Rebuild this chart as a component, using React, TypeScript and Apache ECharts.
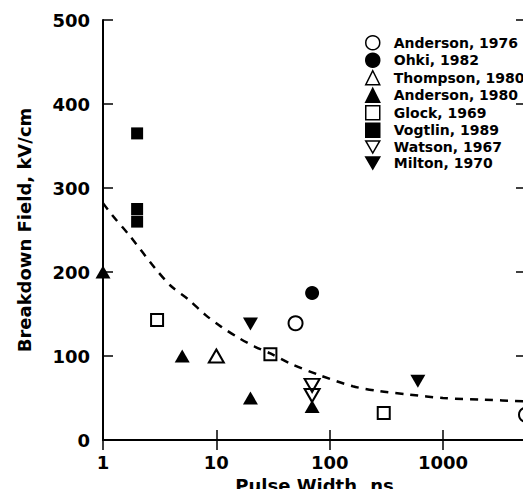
import React, { useEffect, useRef } from 'react';
import * as echarts from 'echarts';

// ---- data ----
const legendNames = [
  'Anderson, 1976',
  'Ohki, 1982',
  'Thompson, 1980',
  'Anderson, 1980',
  'Glock, 1969',
  'Vogtlin, 1989',
  'Watson, 1967',
  'Milton, 1970',
];
const anderson1976 = [[50, 139], [5400, 30]];
const ohki1982 = [[70, 175]];
const thompson1980 = [[10, 100]];
const anderson1980 = [[1, 200], [5, 100], [20, 50], [70, 40]];
const glock1969 = [[3, 143], [30, 102], [300, 32]];
const vogtlin1989 = [[2, 365], [2, 275], [2, 260]];
const watson1967 = [[70, 65], [70, 53]];
const milton1970 = [[20, 138], [600, 70]];
const fitCurve = [
  [1, 282], [1.2, 268], [1.7, 244], [2.9, 204], [4, 183], [5.7, 167],
  [8, 149], [11, 135], [16, 121], [22, 111], [30, 103], [45, 91],
  [82, 77], [160, 64], [280, 58], [510, 54], [1000, 50], [2300, 48], [5400, 46],
];
const xTickLabels = [1, 10, 100, 1000];
const xMin = 1;
const xMax = 5400;
const yMin = 0;
const yMax = 500;
const yStep = 100;

const FONT = '"DejaVu Sans", sans-serif';
const DOWN_TRI = 'path://M0,0 L20,0 L10,17.3 Z';

type Marker = { symbol: string; filled: boolean; size: number | number[]; rotate?: number; legendIcon?: string };

const markers: Marker[] = [
  { symbol: 'circle', filled: false, size: 14 },
  { symbol: 'circle', filled: true, size: 14 },
  { symbol: 'triangle', filled: false, size: [15, 13] },
  { symbol: 'triangle', filled: true, size: [15, 13] },
  { symbol: 'rect', filled: false, size: 12 },
  { symbol: 'rect', filled: true, size: 12 },
  { symbol: 'triangle', filled: false, size: [15, 13], rotate: 180, legendIcon: DOWN_TRI },
  { symbol: 'triangle', filled: true, size: [15, 13], rotate: 180, legendIcon: DOWN_TRI },
];

const seriesData = [
  anderson1976, ohki1982, thompson1980, anderson1980,
  glock1969, vogtlin1989, watson1967, milton1970,
];

export default function App() {
  const ref = useRef<HTMLDivElement>(null);

  useEffect(() => {
    if (!ref.current) return;
    const chart = echarts.init(ref.current, null, { renderer: 'svg' });

    const scatterSeries = legendNames.map((name, i) => {
      const m = markers[i];
      return {
        name,
        type: 'scatter',
        xAxisIndex: 0,
        yAxisIndex: 0,
        data: seriesData[i],
        symbol: m.symbol,
        symbolSize: m.size,
        symbolRotate: m.rotate || 0,
        z: 3,
        itemStyle: m.filled
          ? { color: '#000', borderColor: '#000', borderWidth: 0, opacity: 1 }
          : { color: 'rgba(255,255,255,0)', borderColor: '#000', borderWidth: 2, opacity: 1 },
        emphasis: { disabled: true },
      };
    });

    const legendData = legendNames.map((name, i) =>
      markers[i].legendIcon ? { name, icon: markers[i].legendIcon } : { name }
    );

    const option: any = {
      animation: false,
      backgroundColor: '#fff',
      grid: { left: 103, right: 5, top: 20, bottom: 57, containLabel: false, outerBoundsMode: 'none' },
      legend: {
        show: true,
        data: legendData,
        orient: 'vertical',
        left: 365,
        top: 35,
        itemWidth: 14,
        itemHeight: 14,
        itemGap: 2,
        selectedMode: false,
        padding: 0,
        itemStyle: { borderWidth: 1.5 },
        textStyle: {
          fontFamily: FONT,
          fontWeight: 'bold',
          fontSize: 14,
          lineHeight: 14,
          color: '#000',
          padding: [0, 0, 0, 9],
        },
      },
      xAxis: [
        {
          type: 'log',
          logBase: 10,
          min: xMin,
          max: xMax,
          position: 'bottom',
          name: 'Pulse Width, ns',
          nameLocation: 'middle',
          nameGap: 36,
          nameTextStyle: { fontFamily: FONT, fontWeight: 'bold', fontSize: 18, color: '#000' },
          axisLine: { show: true, lineStyle: { color: '#000', width: 2 } },
          axisTick: { show: true, inside: true, length: 10, lineStyle: { color: '#000', width: 1.5 } },
          minorTick: { show: false },
          splitLine: { show: false },
          axisLabel: {
            show: true,
            margin: 13,
            fontFamily: FONT,
            fontWeight: 'bold',
            fontSize: 18,
            color: '#000',
            showMaxLabel: false,
            formatter: (v: number) => {
              const hit = xTickLabels.find((t) => Math.abs(t - v) / t < 1e-6);
              return hit !== undefined ? String(hit) : '';
            },
          },
        },
        {
          type: 'log',
          logBase: 10,
          min: xMin,
          max: xMax,
          position: 'top',
          axisLine: { show: true, lineStyle: { color: '#000', width: 2 } },
          axisTick: { show: true, inside: true, length: 10, lineStyle: { color: '#000', width: 1.5 } },
          axisLabel: { show: false },
          splitLine: { show: false },
        },
      ],
      yAxis: [
        {
          type: 'value',
          min: yMin,
          max: yMax,
          interval: yStep,
          position: 'left',
          name: 'Breakdown Field, kV/cm',
          nameLocation: 'middle',
          nameGap: 70,
          nameTextStyle: { fontFamily: FONT, fontWeight: 'bold', fontSize: 18, color: '#000' },
          axisLine: { show: true, lineStyle: { color: '#000', width: 2 } },
          axisTick: { show: true, inside: true, length: 10, lineStyle: { color: '#000', width: 1.5 } },
          splitLine: { show: false },
          axisLabel: {
            show: true,
            margin: 13,
            fontFamily: FONT,
            fontWeight: 'bold',
            fontSize: 18,
            color: '#000',
          },
        },
        {
          type: 'value',
          min: yMin,
          max: yMax,
          interval: yStep,
          position: 'right',
          axisLine: { show: true, lineStyle: { color: '#000', width: 2 } },
          axisTick: { show: true, inside: true, length: 10, lineStyle: { color: '#000', width: 1.5 } },
          splitLine: { show: false },
          axisLabel: { show: false },
        },
      ],
      series: [
        {
          name: 'fit',
          type: 'line',
          xAxisIndex: 0,
          yAxisIndex: 0,
          data: fitCurve,
          smooth: 0.3,
          showSymbol: false,
          symbol: 'none',
          z: 4,
          lineStyle: { color: '#000', width: 2.5, type: [8, 7] },
          emphasis: { disabled: true },
        },
        ...scatterSeries,
      ],
    };

    chart.setOption(option);
    return () => chart.dispose();
  }, []);

  return <div ref={ref} style={{ width: 531, height: 497, margin: -8 }} />;
}
